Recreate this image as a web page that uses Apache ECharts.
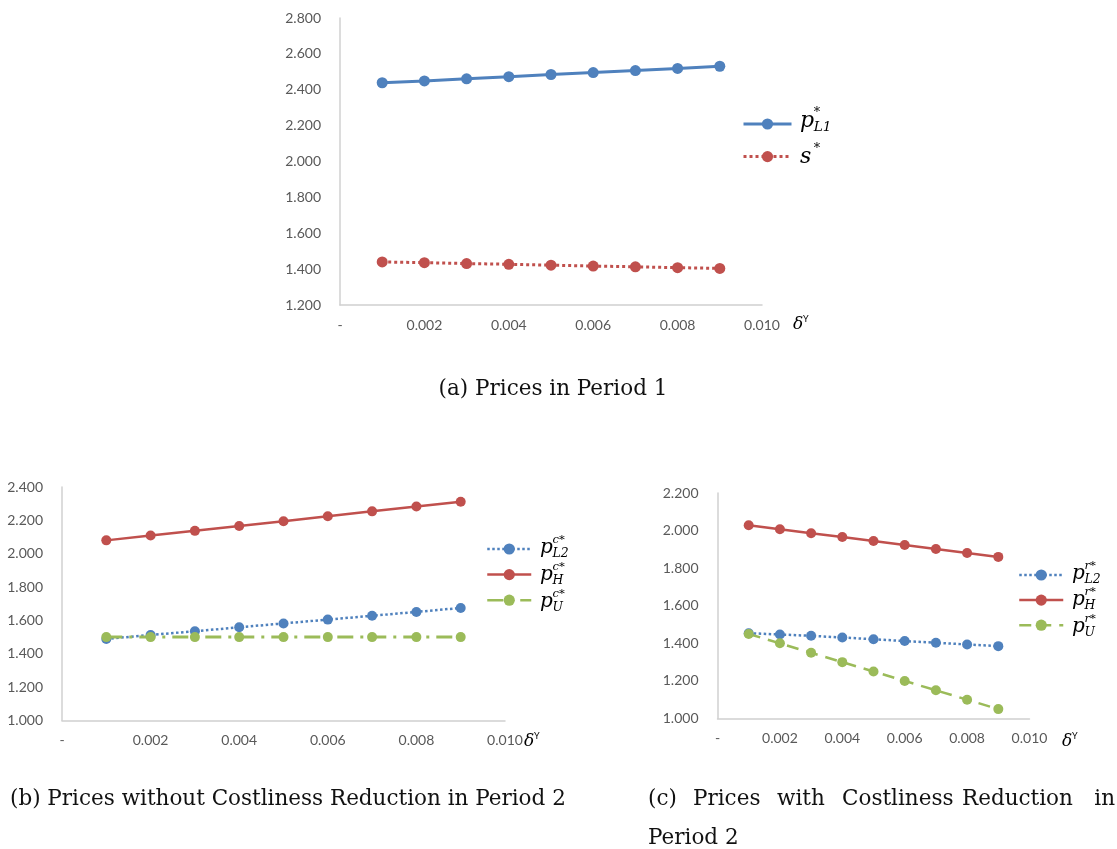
<!DOCTYPE html>
<html>
<head>
<meta charset="utf-8">
<script src="https://cdn.jsdelivr.net/npm/echarts@6/dist/echarts.min.js"></script>
<style>
html,body{margin:0;padding:0;background:#fff;}
#main{width:1117px;height:849px;}
</style>
</head>
<body>
<div id="main"></div>
<script>
// ---- data ----
const deltaY = [0.001, 0.002, 0.003, 0.004, 0.005, 0.006, 0.007, 0.008, 0.009];
// (a) Period 1
const pL1 = [2.439, 2.449, 2.461, 2.473, 2.485, 2.496, 2.507, 2.519, 2.531];
const sStar = [1.440, 1.436, 1.431, 1.427, 1.422, 1.417, 1.413, 1.408, 1.404];
// (b) without costliness reduction
const pL2c = [1.489, 1.513, 1.535, 1.559, 1.582, 1.605, 1.628, 1.651, 1.675];
const pHc = [2.080, 2.109, 2.137, 2.166, 2.195, 2.225, 2.254, 2.283, 2.312];
const pUc = [1.500, 1.500, 1.500, 1.500, 1.500, 1.500, 1.500, 1.500, 1.500];
// (c) with costliness reduction
const pL2r = [1.454, 1.447, 1.440, 1.431, 1.422, 1.412, 1.403, 1.394, 1.385];
const pHr = [2.028, 2.007, 1.986, 1.966, 1.945, 1.923, 1.902, 1.881, 1.860];
const pUr = [1.450, 1.400, 1.350, 1.300, 1.250, 1.200, 1.150, 1.100, 1.050];
// axis ranges [min, max, interval]
const xRange = [0, 0.010, 0.002];
const yRangeA = [1.2, 2.8, 0.2];
const yRangeB = [1.0, 2.4, 0.2];
const yRangeC = [1.0, 2.2, 0.2];
const captions = ['(a) Prices in Period 1', '(b) Prices without Costliness Reduction in Period 2'];
const captionCWords = ['(c)', 'Prices', 'with', 'Costliness', 'Reduction', 'in'];
const captionCLine2 = 'Period 2';

// ---- style ----
const BLUE = '#4F81BD', RED = '#C0504D', GREEN = '#9BBB59';
const AX = '#D0D0D0', LBL = '#595959';
const LFONT = 'Lato, "Open Sans", sans-serif';
const SERIF = '"DejaVu Serif", "Liberation Serif", serif';
const CAPF = '21.5px ' + SERIF;

const pairs = ys => ys.map((y, i) => [deltaY[i], y]);

function xAxisOf(g) {
  return {
    gridIndex: g, type: 'value', min: xRange[0], max: xRange[1], interval: xRange[2],
    axisLine: { show: true, lineStyle: { color: AX, width: 1.5 } },
    axisTick: { show: false }, splitLine: { show: false },
    axisLabel: { color: LBL, fontFamily: LFONT, fontSize: 14, margin: 13,
      formatter: v => (Math.abs(v) < 1e-9 ? '-' : v.toFixed(3)) }
  };
}
function yAxisOf(g, r) {
  return {
    gridIndex: g, type: 'value', min: r[0], max: r[1], interval: r[2],
    axisLine: { show: true, lineStyle: { color: AX, width: 1.5 } },
    axisTick: { show: false }, splitLine: { show: false },
    axisLabel: { color: LBL, fontFamily: LFONT, fontSize: 14, margin: 19,
      formatter: v => v.toFixed(3) }
  };
}
function line(name, g, ys, color, type, width, size) {
  return {
    name, type: 'line', xAxisIndex: g, yAxisIndex: g, data: pairs(ys),
    symbol: 'circle', symbolSize: size, showSymbol: true,
    itemStyle: { color }, lineStyle: { color, width, type },
    emphasis: { disabled: true }, animation: false
  };
}

// math label (p with sup and sub)
function mathLabel(x, y, size, mainTxt, supTxt, subTxt) {
  const sub = size * 0.62;
  const pw = size * 0.62;
  const kids = [
    { type: 'text', x: x, y: y, style: { text: mainTxt, font: 'italic ' + size + 'px ' + SERIF, fill: '#000', align: 'left', verticalAlign: 'middle' } },
    { type: 'text', x: x + pw, y: y - size * 0.4, style: { text: supTxt, font: 'italic ' + (size * 0.58) + 'px ' + SERIF, fill: '#000', align: 'left', verticalAlign: 'middle' } }
  ];
  if (subTxt) {
    kids.push({ type: 'text', x: x + pw, y: y + size * 0.3, style: { text: subTxt, font: 'italic ' + sub + 'px ' + SERIF, fill: '#000', align: 'left', verticalAlign: 'middle' } });
  }
  return kids;
}
function deltaLabel(x, y) {
  return [
    { type: 'text', x: x, y: y, style: { text: 'δ', font: 'italic 17px ' + SERIF, fill: '#000', align: 'left', verticalAlign: 'middle' } },
    { type: 'text', x: x + 10, y: y - 6, style: { text: 'Y', font: '9px ' + LFONT, fill: '#000', align: 'left', verticalAlign: 'middle' } }
  ];
}
function legendOf(names, left, top, gap, w, lw) {
  return { data: names, orient: 'vertical', left, top, padding: 0, itemGap: gap, itemWidth: w, itemHeight: 14,
    lineStyle: { width: lw }, formatter: () => '', selectedMode: false, textStyle: { fontSize: 1 } };
}

const graphics = [].concat(
  mathLabel(800, 121, 22, 'p', '*', 'L1'),
  mathLabel(800, 157, 22, 's', '*', ''),
  mathLabel(540, 548, 20, 'p', 'c*', 'L2'),
  mathLabel(540, 575, 20, 'p', 'c*', 'H'),
  mathLabel(540, 602, 20, 'p', 'c*', 'U'),
  mathLabel(1072, 574, 20, 'p', 'r*', 'L2'),
  mathLabel(1072, 600, 20, 'p', 'r*', 'H'),
  mathLabel(1072, 627, 20, 'p', 'r*', 'U'),
  deltaLabel(793, 325), deltaLabel(524, 742), deltaLabel(1062, 742),
  [
    { type: 'text', x: 553, y: 389, style: { text: captions[0], font: CAPF, fill: '#111', align: 'center', verticalAlign: 'middle' } },
    { type: 'text', x: 10, y: 799, style: { text: captions[1], font: CAPF, fill: '#111', align: 'left', verticalAlign: 'middle' } },
    { type: 'text', x: 648, y: 838, style: { text: captionCLine2, font: CAPF, fill: '#111', align: 'left', verticalAlign: 'middle' } }
  ],
  captionCWords.map((w, i) => {
    const xs = [648, 693, 777, 842, 962, 1115];
    return { type: 'text', x: xs[i], y: 799, style: { text: w, font: CAPF, fill: '#111', align: i === captionCWords.length - 1 ? 'right' : 'left', verticalAlign: 'middle' } };
  })
);

const option = {
  animation: false,
  backgroundColor: '#fff',
  grid: [
    { left: 340, top: 18, width: 422, height: 287 },
    { left: 62, top: 487, width: 443, height: 233.5 },
    { left: 717.5, top: 493, width: 312, height: 225.5 }
  ],
  xAxis: [xAxisOf(0), xAxisOf(1), xAxisOf(2)],
  yAxis: [yAxisOf(0, yRangeA), yAxisOf(1, yRangeB), yAxisOf(2, yRangeC)],
  legend: [
    legendOf(['pL1', 's'], 742, 117, 20, 48, 3),
    legendOf(['pL2c', 'pHc', 'pUc'], 486, 542, 13, 44, 2.5),
    legendOf(['pL2r', 'pHr', 'pUr'], 1018, 568, 12.5, 44, 2.5)
  ],
  series: [
    line('pL1', 0, pL1, BLUE, 'solid', 3, 11),
    line('s', 0, sStar, RED, 'dotted', 3, 11),
    line('pL2c', 1, pL2c, BLUE, 'dotted', 2.5, 10),
    line('pHc', 1, pHc, RED, 'solid', 2.5, 10),
    line('pUc', 1, pUc, GREEN, [16, 7, 3, 7], 3, 10),
    line('pL2r', 2, pL2r, BLUE, 'dotted', 2.5, 10),
    line('pHr', 2, pHr, RED, 'solid', 2.5, 10),
    line('pUr', 2, pUr, GREEN, [12, 8], 2.5, 10)
  ],
  graphic: graphics
};
const chart = echarts.init(document.getElementById('main'), null, { renderer: 'canvas' });
chart.setOption(option);
</script>
</body>
</html>
